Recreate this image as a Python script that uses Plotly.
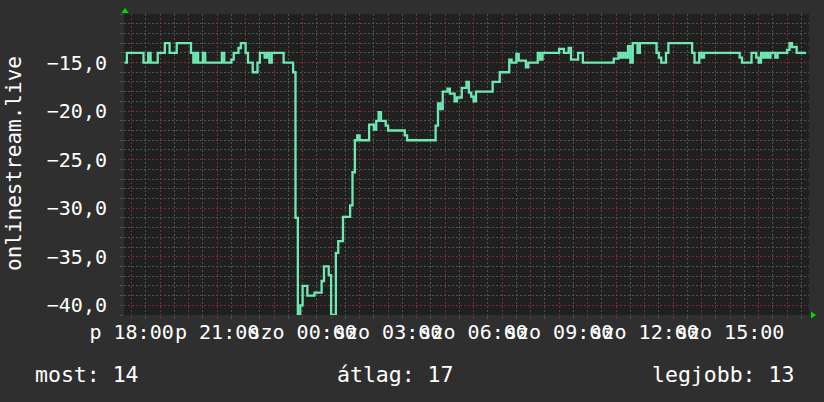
import plotly.graph_objects as go
import pandas as pd

# ---- data ----
times = [
    "2024-03-01 17:45", "2024-03-01 17:50", "2024-03-01 18:25", "2024-03-01 18:35",
    "2024-03-01 18:40", "2024-03-01 18:55", "2024-03-01 19:10", "2024-03-01 19:20",
    "2024-03-01 19:35", "2024-03-01 20:05", "2024-03-01 20:10", "2024-03-01 20:15",
    "2024-03-01 20:20", "2024-03-01 20:30", "2024-03-01 20:35", "2024-03-01 21:10",
    "2024-03-01 21:15", "2024-03-01 21:30", "2024-03-01 21:35", "2024-03-01 21:45",
    "2024-03-01 21:50", "2024-03-01 22:00", "2024-03-01 22:05", "2024-03-01 22:15",
    "2024-03-01 22:25", "2024-03-01 22:30", "2024-03-01 22:40", "2024-03-01 22:45",
    "2024-03-01 22:50", "2024-03-01 22:55", "2024-03-01 23:20", "2024-03-01 23:40",
    "2024-03-01 23:45", "2024-03-01 23:50", "2024-03-01 23:55", "2024-03-02 00:00",
    "2024-03-02 00:10", "2024-03-02 00:25", "2024-03-02 00:40", "2024-03-02 00:45",
    "2024-03-02 00:55", "2024-03-02 01:00", "2024-03-02 01:10", "2024-03-02 01:15",
    "2024-03-02 01:25", "2024-03-02 01:40", "2024-03-02 01:45", "2024-03-02 01:50",
    "2024-03-02 01:55", "2024-03-02 02:00", "2024-03-02 02:20", "2024-03-02 02:30",
    "2024-03-02 02:35", "2024-03-02 02:40", "2024-03-02 02:45", "2024-03-02 02:55",
    "2024-03-02 03:00", "2024-03-02 03:35", "2024-03-02 03:40", "2024-03-02 04:40",
    "2024-03-02 04:45", "2024-03-02 04:50", "2024-03-02 04:55", "2024-03-02 05:05",
    "2024-03-02 05:10", "2024-03-02 05:20", "2024-03-02 05:25", "2024-03-02 05:35",
    "2024-03-02 05:45", "2024-03-02 05:50", "2024-03-02 05:55", "2024-03-02 06:00",
    "2024-03-02 06:05", "2024-03-02 06:40", "2024-03-02 06:55", "2024-03-02 07:15",
    "2024-03-02 07:20", "2024-03-02 07:30", "2024-03-02 07:35", "2024-03-02 07:50",
    "2024-03-02 07:55", "2024-03-02 08:15", "2024-03-02 08:20", "2024-03-02 08:25",
    "2024-03-02 09:00", "2024-03-02 09:10", "2024-03-02 09:20", "2024-03-02 09:25",
    "2024-03-02 09:40", "2024-03-02 09:50", "2024-03-02 10:55", "2024-03-02 11:05",
    "2024-03-02 11:10", "2024-03-02 11:15", "2024-03-02 11:20", "2024-03-02 11:25",
    "2024-03-02 11:30", "2024-03-02 11:35", "2024-03-02 11:45", "2024-03-02 11:50",
    "2024-03-02 12:25", "2024-03-02 12:30", "2024-03-02 12:35", "2024-03-02 12:45",
    "2024-03-02 12:50", "2024-03-02 13:40", "2024-03-02 13:45", "2024-03-02 13:55",
    "2024-03-02 14:00", "2024-03-02 14:05", "2024-03-02 15:20", "2024-03-02 15:25",
    "2024-03-02 15:45", "2024-03-02 15:55", "2024-03-02 16:00", "2024-03-02 16:05",
    "2024-03-02 16:10", "2024-03-02 16:15", "2024-03-02 16:20", "2024-03-02 16:25",
    "2024-03-02 16:35", "2024-03-02 16:40", "2024-03-02 17:00", "2024-03-02 17:05",
    "2024-03-02 17:10", "2024-03-02 17:20", "2024-03-02 17:40",
]
values = [
    -15, -14, -15, -14,
    -15, -14, -13, -14,
    -13, -14, -15, -14,
    -15, -14, -15, -14,
    -15, -14.7, -14, -13.5,
    -13, -14, -15, -16,
    -15, -14, -14.5, -14,
    -15, -14, -15, -16,
    -31, -41, -40, -38,
    -39, -38.7, -37.5, -36,
    -36.9, -41, -34.6, -33.4,
    -30.9, -29.7, -26.3, -23,
    -22.5, -23, -21.4, -21.9,
    -21, -20.1, -21, -21.5,
    -22, -22.5, -23, -21.5,
    -19.2, -19.8, -18, -17.7,
    -18.2, -19, -18.6, -17.6,
    -17, -18.1, -18.5, -19,
    -18, -17, -16, -14.7,
    -15, -14.1, -14.8, -15.5,
    -15, -14, -14.7, -14,
    -13.6, -14, -13.5, -14.7,
    -14, -15, -14.6, -14,
    -14.5, -14, -14.5, -13.3,
    -15, -13, -14, -13,
    -14, -14.5, -15, -14,
    -13, -14, -15, -14,
    -14.5, -14, -14.5, -15,
    -14, -14.5, -15, -14,
    -14.5, -14, -14.5, -14,
    -14.5, -14, -13.7, -13,
    -13.4, -14, -14,
]

tick_labels = ["p 18:00", "p 21:00", "szo 00:00", "szo 03:00",
               "szo 06:00", "szo 09:00", "szo 12:00", "szo 15:00"]
y_ticks = [-40, -35, -30, -25, -20, -15]
legend_texts = ["most: 14", "átlag: 17", "legjobb: 13"]
y_title = "onlinestream.live"

# ---- axes helpers ----
hours = pd.date_range("2024-03-01 18:00", "2024-03-02 17:00", freq="1h")
x_tickvals = [h.strftime("%Y-%m-%d %H:%M") for h in hours]
x_ticktext = [tick_labels[i // 3] if i % 3 == 0 else "" for i in range(len(hours))]

FONT = "DejaVu Sans Mono"
BG = "#2f2f2f"
PLOT_BG = "#202020"
MAJOR = "#763434"
MINOR = "#525252"
DASH = "2px,2px"

fig = go.Figure()
fig.add_trace(go.Scatter(
    x=times, y=values, mode="lines", line=dict(color="#6fe8b2", width=2.3, shape="hv"),
    hoverinfo="skip", showlegend=False,
))

fig.update_layout(
    width=824, height=402,
    margin=dict(l=124, r=15, t=14, b=87),
    paper_bgcolor=BG, plot_bgcolor=PLOT_BG,
    separators=", ",
    font=dict(family=FONT, size=20, color="#ffffff"),
    showlegend=False,
    xaxis=dict(
        type="date",
        range=["2024-03-01 17:44", "2024-03-02 17:46"],
        tickmode="array", tickvals=x_tickvals, ticktext=x_ticktext,
        tickangle=0,
        showgrid=True, gridcolor=MAJOR, griddash=DASH, gridwidth=1,
        ticks="outside", ticklen=3, tickcolor=MAJOR,
        minor=dict(dtick=1800000, tick0="2024-03-01 18:00", showgrid=True,
                   gridcolor=MINOR, griddash=DASH, gridwidth=1,
                   ticks="outside", ticklen=3, tickcolor=MINOR),
        zeroline=False, showline=False,
        tickfont=dict(family=FONT, size=20, color="#ffffff"),
        ticklabelstandoff=-4,
    ),
    yaxis=dict(
        range=[-41, -10],
        tickmode="array", tickvals=y_ticks, tickformat=".1f",
        showgrid=True, gridcolor=MAJOR, griddash=DASH, gridwidth=1,
        ticks="outside", ticklen=3, tickcolor=MAJOR,
        minor=dict(dtick=1, tick0=-41, showgrid=True, gridcolor=MINOR,
                   griddash=DASH, gridwidth=1, ticks="outside", ticklen=3,
                   tickcolor=MINOR),
        zeroline=False, showline=False,
        tickfont=dict(family=FONT, size=20, color="#ffffff"),
        ticklabelstandoff=9,
    ),
)

W = 685.0
H = 301.0
def px(xp):
    return (xp - 124) / W
def py(yp):
    return (315 - yp) / H

annotations = [
    dict(text=y_title, x=px(14), y=py(164), xref="paper", yref="paper",
         textangle=-90, showarrow=False, xanchor="center", yanchor="middle",
         font=dict(family=FONT, size=21, color="#ffffff")),
]
for txt, left in zip(legend_texts, [33, 335, 650]):
    annotations.append(dict(text=txt, x=px(left), y=py(374), xref="paper", yref="paper",
                            showarrow=False, xanchor="left", yanchor="middle",
                            font=dict(family=FONT, size=21.5, color="#ffffff")))
fig.update_layout(annotations=annotations)

def tri(points):
    return "M " + " L ".join(f"{px(a):.5f},{py(b):.5f}" for a, b in points) + " Z"

fig.update_layout(shapes=[
    dict(type="path", xref="paper", yref="paper", path=tri([(125, 8), (121.5, 13), (128.5, 13)]),
         fillcolor="#00dd00", line=dict(width=0)),
    dict(type="path", xref="paper", yref="paper", path=tri([(811, 311.5), (811, 318.5), (816, 315)]),
         fillcolor="#00dd00", line=dict(width=0)),
])

fig.write_html("out.html", config={"displayModeBar": False},
               post_script="document.body.style.margin='0px';")
